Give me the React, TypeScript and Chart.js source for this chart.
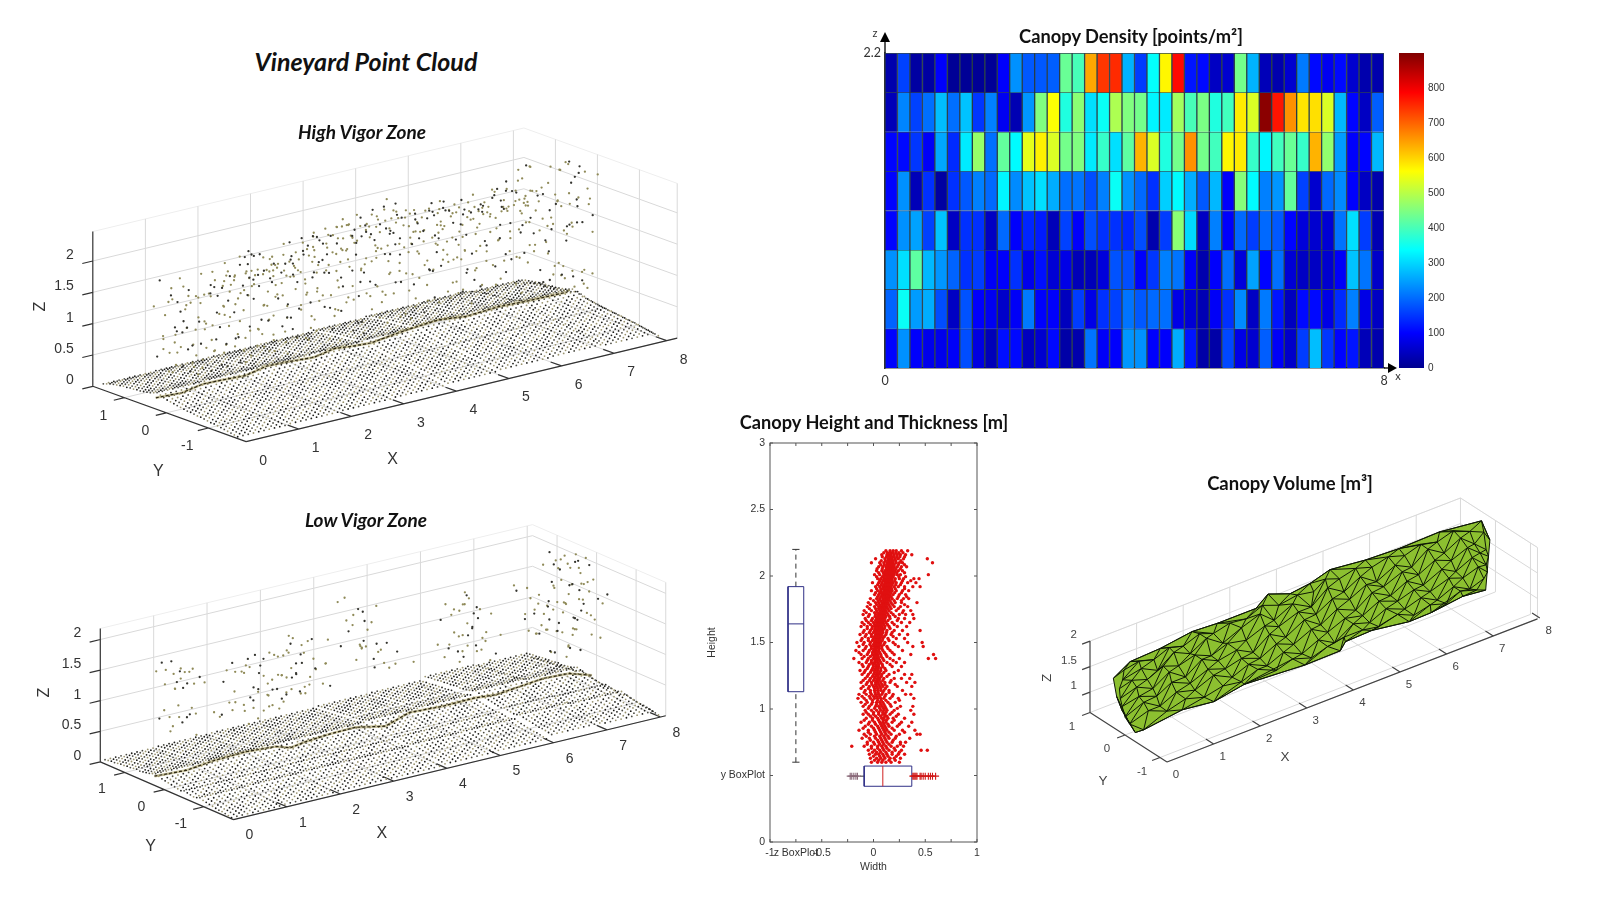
import { useEffect, useRef } from "react";
import { Chart, registerables } from "chart.js";
Chart.register(...registerables);

/* ---------- Canopy density (points/m2), rows top to bottom, 40 columns ---------- */
const density1 = [40,170,30,30,110,20,20,20,20,110,240,190,190,195,430,400,640,740,750,270,165,340,570,780,130,120,60,70,440,270,50,40,70,220,120,100,120,70,40,40];
const density2 = [50,230,170,210,280,210,285,160,225,100,45,245,450,560,365,460,310,345,490,450,440,330,320,480,400,445,365,395,580,530,890,770,660,585,590,530,275,115,60,195];
const density3 = [115,120,160,105,260,150,320,470,210,425,335,540,575,530,440,450,320,385,310,420,630,530,365,440,660,440,395,570,580,385,330,395,430,385,630,465,250,110,115,275];
const density4 = [115,240,50,155,30,155,190,225,205,330,235,285,310,265,210,215,180,225,345,240,205,155,295,335,265,190,275,110,455,335,225,245,425,170,70,205,235,110,60,40];
const density5 = [115,240,255,170,285,60,155,155,60,205,110,145,135,50,170,110,180,155,155,145,180,40,165,460,305,60,225,110,205,165,205,190,115,80,70,75,215,310,165,45];
const density6 = [240,310,420,275,245,200,155,165,105,110,155,95,125,75,90,50,50,80,185,180,110,160,225,215,105,40,110,210,80,255,115,210,75,60,60,70,105,285,215,65];
const density7 = [200,345,250,265,180,60,185,110,100,65,105,220,110,110,55,165,90,155,170,215,190,205,210,90,75,45,105,155,235,60,220,130,55,120,120,90,150,225,90,60];
const density8 = [115,240,110,95,95,105,180,85,50,125,120,55,70,120,35,40,215,105,110,245,240,110,110,265,130,35,35,175,90,70,195,105,65,165,280,160,115,130,50,40];
const densityRows = [density1, density2, density3, density4, density5, density6, density7, density8];
const columnCenters = [0.1,0.3,0.5,0.7,0.9,1.1,1.3,1.5,1.7,1.9,2.1,2.3,2.5,2.7,2.9,3.1,3.3,3.5,3.7,3.9,4.1,4.3,4.5,4.7,4.9,5.1,5.3,5.5,5.7,5.9,6.1,6.3,6.5,6.7,6.9,7.1,7.3,7.5,7.7,7.9];
const rowEdges = [2.2,1.925,1.65,1.375,1.1,0.825,0.55,0.275,0];
const colorbarTicks = [0,100,200,300,400,500,600,700,800];

/* ---------- Canopy height and thickness: width values by height row ---------- */
const thicknessRows: [number, number[]][] = [
[2.19,[.12,.16,.19,.22,.27,.33]],[2.16,[.08,.13,.15,.17,.2,.23,.26,.31,.37]],[2.13,[.02,.11,.14,.16,.18,.21,.24,.29,.52]],
[2.10,[-.02,.06,.1,.13,.15,.17,.19,.22,.25,.28,.57]],[2.07,[.05,.09,.12,.14,.16,.18,.2,.23,.27,.32]],[2.04,[.03,.08,.11,.13,.15,.17,.19,.21,.24,.28]],
[2.01,[.01,.06,.1,.12,.14,.16,.18,.2,.23,.26,.53]],[1.98,[.04,.07,.1,.12,.14,.16,.18,.21,.25,.29,.39,.44]],[1.95,[-.01,.05,.08,.11,.13,.15,.17,.19,.22,.27,.33,.41]],
[1.92,[.02,.06,.09,.11,.13,.15,.17,.2,.24,.3,.38,.45]],[1.89,[-.02,.04,.07,.1,.12,.14,.16,.18,.22,.28,.34]],[1.86,[.01,.05,.08,.1,.12,.14,.16,.19,.25,.31]],
[1.83,[-.03,.03,.06,.09,.11,.13,.15,.18,.23,.29,.34]],[1.80,[-.05,.02,.05,.08,.1,.12,.14,.17,.21,.27,.42]],[1.77,[-.06,.01,.05,.07,.09,.11,.13,.16,.2,.26,.33]],
[1.74,[-.09,-.02,.03,.06,.08,.1,.12,.15,.22,.29,.36]],[1.71,[-.1,-.04,.02,.05,.07,.09,.11,.14,.19,.25,.31,.38]],[1.68,[-.08,-.01,.03,.05,.07,.09,.11,.16,.24,.3,.39]],
[1.65,[-.11,-.05,0,.03,.05,.07,.09,.12,.18,.27,.35]],[1.62,[-.12,-.06,-.01,.02,.04,.06,.08,.11,.15,.23,.32]],[1.59,[-.09,-.03,.01,.03,.05,.07,.09,.13,.2,.28,.45]],
[1.56,[-.13,-.07,-.02,.02,.04,.06,.08,.12,.17,.25,.33]],[1.53,[-.11,-.05,0,.02,.04,.06,.09,.14,.22,.3]],[1.50,[-.16,-.09,-.03,.01,.03,.05,.07,.11,.19,.33,.47]],
[1.47,[-.14,-.07,-.02,.01,.03,.05,.08,.13,.24,.38,.48]],[1.44,[-.17,-.1,-.04,0,.02,.05,.09,.16,.28]],[1.41,[-.12,-.06,-.01,.02,.04,.07,.12,.2,.36,.58]],
[1.38,[-.19,-.11,-.05,0,.03,.05,.09,.16,.25,.53,.6]],[1.35,[-.14,-.07,-.02,.01,.04,.07,.13,.22,.3]],[1.32,[-.1,-.05,0,.03,.05,.09,.18,.27]],
[1.29,[-.13,-.08,-.02,.01,.04,.07,.12,.24]],[1.26,[-.11,-.05,0,.03,.05,.08,.15,.3,.37]],[1.23,[-.08,-.03,.01,.04,.06,.1,.2,.27,.35]],
[1.20,[-.12,-.06,-.02,.02,.04,.07,.11,.16,.32,.4]],[1.17,[-.1,-.04,0,.03,.06,.09,.13,.23,.37]],[1.14,[-.08,-.03,.01,.04,.07,.1,.15,.28]],
[1.11,[-.14,-.07,-.02,.02,.05,.08,.12,.19,.31,.36]],[1.08,[-.15,-.09,-.03,.01,.04,.07,.1,.16,.24,.39]],[1.05,[-.12,-.06,-.01,.03,.06,.09,.14,.21]],
[1.02,[-.1,-.04,.02,.05,.08,.11,.17,.26,.38]],[0.99,[-.08,-.02,.03,.07,.1,.13,.2,.36]],[0.96,[-.1,-.05,0,.05,.09,.11,.16,.24,.39]],
[0.93,[-.07,-.01,.04,.08,.1,.14,.19,.3]],[0.90,[-.12,-.04,.01,.06,.09,.12,.18,.27,.37]],[0.87,[-.08,-.02,.04,.08,.11,.15,.23,.34]],
[0.84,[-.14,-.05,.01,.06,.1,.13,.2,.28,.4]],[0.81,[-.09,-.03,.03,.08,.12,.17,.25,.45,.42]],[0.78,[-.11,-.04,.02,.07,.11,.15,.21,.35]],
[0.75,[-.06,0,.05,.09,.13,.18,.26,.31]],[0.72,[-.21,-.09,-.02,.04,.08,.12,.17,.23,.29]],[0.69,[-.05,.01,.06,.1,.15,.21,.27,.46,.52]],
[0.66,[-.04,.02,.05,.09,.13,.18,.24,.3]],[0.63,[-.03,.03,.07,.11,.16,.2,.26]],[0.60,[-.02,.04,.08,.12,.17,.25]],
];
const thicknessCore: [number, number[]][] = [
[2.175,[.1,.135,.165,.185,.215,.245,.285]],[2.145,[.085,.125,.155,.175,.195,.225,.255,.3]],[2.115,[.075,.115,.145,.165,.19,.215,.265]],[2.085,[.07,.105,.135,.155,.175,.2,.24,.3]],
[2.055,[.035,.085,.125,.145,.165,.19,.215,.26]],[2.025,[.05,.095,.115,.135,.155,.175,.2,.225,.3]],[1.995,[.03,.085,.105,.13,.15,.17,.19,.245,.31]],[1.965,[.06,.09,.115,.135,.155,.175,.205,.28,.36]],
[1.935,[.04,.075,.1,.12,.14,.16,.18,.215,.26]],[1.905,[.03,.07,.095,.115,.135,.155,.175,.21,.3]],[1.875,[.02,.06,.085,.105,.125,.145,.17,.205,.27]],[1.845,[.04,.07,.09,.11,.13,.15,.17,.24,.32]],
[1.815,[0,.045,.07,.095,.115,.135,.16,.2,.27]],[1.785,[-.03,.03,.06,.085,.105,.125,.15,.185,.3]],[1.755,[-.04,.02,.05,.075,.095,.115,.14,.17,.24]],[1.725,[-.07,.01,.04,.065,.085,.105,.13,.17,.28]],
[1.695,[-.05,.015,.04,.06,.08,.1,.12,.155,.21]],[1.665,[-.07,-.02,.02,.045,.065,.085,.105,.14,.23]],[1.635,[-.09,-.03,.01,.035,.055,.075,.1,.135,.2]],[1.605,[-.06,-.015,.015,.04,.06,.08,.105,.16]],
[1.575,[-.1,-.04,0,.025,.045,.065,.09,.125,.18]],[1.545,[-.08,-.02,.01,.03,.05,.075,.105,.19]],[1.515,[-.12,-.05,-.01,.02,.04,.06,.085,.15]],[1.485,[-.1,-.035,0,.02,.04,.065,.1,.21]],
[1.455,[-.08,-.02,.01,.03,.055,.08,.14]],[1.425,[-.14,-.05,-.01,.015,.035,.06,.105,.18]],[1.395,[-.09,-.03,.005,.025,.045,.075,.13]],[1.365,[-.06,-.02,.015,.035,.06,.1,.19]],
[1.335,[-.11,-.04,-.005,.02,.05,.085,.16]],[1.305,[-.06,-.01,.02,.04,.07,.11]],[1.275,[-.09,-.03,.01,.035,.06,.1,.2]],[1.245,[-.06,-.01,.02,.045,.075,.13]],
[1.215,[-.1,-.04,0,.03,.055,.09,.17]],[1.185,[-.07,-.015,.02,.05,.08,.11,.21]],[1.155,[-.12,-.05,.01,.04,.07,.115]],[1.125,[-.09,-.03,.015,.045,.09,.15]],
[1.095,[-.11,-.04,0,.03,.06,.11,.18]],[1.065,[-.07,-.01,.04,.075,.12,.25]],[1.035,[-.08,-.02,.03,.07,.1,.16]],[1.005,[-.05,.01,.06,.095,.12,.23]],
[.975,[-.07,0,.05,.09,.12,.18]],[.945,[-.03,.02,.07,.11,.13,.22]],[.915,[-.09,-.01,.05,.095,.125,.2]],[.885,[-.05,.02,.07,.1,.14,.25]],
[.855,[-.1,0,.05,.09,.12,.18]],[.825,[-.05,.02,.07,.11,.15,.3]],[.795,[-.07,.01,.06,.1,.14,.22]],[.765,[-.03,.04,.08,.12,.19]],
[.735,[-.06,.01,.06,.1,.15,.26]],[.705,[-.02,.04,.09,.13,.2]],[.675,[-.01,.03,.07,.12,.18,.25]],[.645,[0,.06,.1,.14,.22]],[.615,[.01,.05,.09,.15,.21]],
];
const verticalBox = [0.6, 1.13, 1.64, 1.92, 2.2];
const horizontalBox = [-0.13, -0.09, 0.09, 0.37, 0.37];
const widthOutliers = [-0.225,-0.21,-0.19,-0.17,-0.155,0.38,0.39,0.4,0.41,0.42,0.45,0.46,0.48,0.5,0.53,0.55,0.57,0.6];
const widthTicks: Record<string, string> = { "-1": "-1", "-0.75": "z BoxPlot", "-0.5": "-0.5", "0": "0", "0.5": "0.5", "1": "1" };
const heightTicks: Record<string, string> = { "0": "0", "0.5": "y BoxPlot", "1": "1", "1.5": "1.5", "2": "2", "2.5": "2.5", "3": "3" };

/* ---------- Point clouds: ground sampling, heights and canopy (x -> heights) ---------- */
const groundX = [0,.1,.2,.3,.4,.5,.6,.7,.8,.9,1,1.1,1.2,1.3,1.4,1.5,1.6,1.7,1.8,1.9,2,2.1,2.2,2.3,2.4,2.5,2.6,2.7,2.8,2.9,3,3.1,3.2,3.3,3.4,3.5,3.6,3.7,3.8,3.9,4,4.1,4.2,4.3,4.4,4.5,4.6,4.7,4.8,4.9,5,5.1,5.2,5.3,5.4,5.5,5.6,5.7,5.8,5.9,6,6.1,6.2,6.3,6.4,6.5,6.6,6.7,6.8,6.9,7,7.1,7.2,7.3,7.4,7.5,7.6,7.7,7.8,7.9,8];
const groundY = [-1.7,-1.62,-1.54,-1.46,-1.38,-1.3,-1.22,-1.14,-1.06,-.98,-.9,-.82,-.74,-.66,-.58,-.5,-.42,-.34,-.26,-.18,-.1,-.02,.06,.14,.22,.3,.38,.46,.54,.62,.7,.78,.86,.94,1.02,1.1,1.18,1.26,1.34,1.42,1.5];
const highAcrossRow = [.03,.04,.05,.06,.07,.08,.09,.1,.1,.11,.12,.13,.13,.14,.15,.15,.16,.17,.18,.19,.2,.21,.23,.25,.27,.25,.23,.22,.21,.2,.2,.19,.19,.18,.18,.17,.16,.15,.14,.12,.1];
const lowAcrossRow = [.02,.03,.04,.05,.05,.06,.07,.08,.09,.1,.12,.1,.09,.1,.11,.12,.1,.11,.12,.13,.14,.15,.16,.18,.2,.18,.16,.15,.14,.13,.14,.13,.12,.12,.11,.11,.1,.09,.09,.08,.07];
const highAlongRow = [0,.01,.02,.03,.05,.07,.08,.06,0];
const lowAlongRow = [0,.01,.02,.02,.04,.05,.1,.08,0];
const highRidgeX = [0,.5,.9,1.25,1.7,2.1,2.5,3,3.4,3.75,4.1,4.45,4.9,5.38,5.9,6.5,7.1,7.83];
const highRidgeZ = [.18,.16,.22,.21,.19,.26,.25,.22,.28,.25,.23,.27,.31,.34,.29,.32,.3,.29];
const lowRidgeX = [0,.6,1.1,1.7,2.27,2.55,2.83,3.3,3.76,4.33,4.78,5.4,6.01,6.4,6.84,7.3,7.77,8.2];
const lowRidgeZ = [.15,.12,.17,.19,.16,.08,.12,.15,.16,.06,.19,.16,.17,.14,.18,.22,.2,.08];
const canopyDepths = [0,.28,-.2,.14,-.32,.36,-.08,.22,-.26,.1,-.14,.32,.05];

const highCanopy: [number, number[]][] = [
[.25,[.55,.72,.9,1.08,1.25,1.5,1.72,1.95,2.1]],[.4,[.48,.63,.8,.97,1.16,1.35,1.56,1.7]],[.55,[.52,.7,.86,1.02,1.22,1.42,1.62,1.74]],
[.7,[.45,.6,.78,.95,1.12,1.3,1.48,1.68,1.76]],[.85,[.5,.66,.84,1.05,1.28,1.52,1.66,1.72]],[1,[.42,.58,.74,.92,1.14,1.38,1.6,1.78]],
[1.15,[.48,.68,.88,1.1,1.32,1.58,1.72,1.84]],[1.3,[.44,.62,.8,1.02,1.24,1.46,1.66,1.78,1.86]],[1.45,[.5,.7,.92,1.16,1.4,1.62,1.74,1.88]],
[1.6,[.46,.64,.86,1.08,1.34,1.54,1.7,1.82,1.92]],[1.75,[.52,.74,.98,1.2,1.44,1.68,1.8,1.96]],[1.9,[.48,.66,.9,1.12,1.38,1.6,1.76,1.9,2.06]],
[2.05,[.55,.76,1,1.24,1.48,1.66,1.78,1.92,2.02]],[2.2,[.5,.7,.94,1.18,1.42,1.62,1.74,1.86,1.96]],[2.35,[.46,.68,.88,1.1,1.36,1.56,1.7,1.8,1.88]],
[2.5,[.52,.72,.96,1.22,1.46,1.64,1.76,1.84,1.9]],[2.65,[.48,.66,.9,1.16,1.4,1.6,1.72,1.86,1.98]],[2.8,[.54,.76,1.02,1.28,1.5,1.68,1.8,1.92,2.02]],
[2.95,[.5,.7,.94,1.18,1.44,1.66,1.82,1.96,2.08]],[3.1,[.56,.78,1.04,1.3,1.54,1.72,1.86,2,2.1]],[3.25,[.52,.74,.98,1.22,1.46,1.7,1.88,2.02]],
[3.4,[.58,.8,1.06,1.32,1.58,1.78,1.92,2.06,2.14]],[3.55,[.6,.84,1.1,1.38,1.62,1.82,1.98,2.1,2.16]],[3.7,[.54,.76,1.02,1.3,1.56,1.76,1.94,2.08,2.18]],
[3.85,[.6,.86,1.12,1.4,1.66,1.86,2,2.12,2.2]],[4,[.56,.82,1.08,1.36,1.6,1.78,1.94,2.08]],[4.15,[.62,.88,1.14,1.42,1.7,1.88,2.02,2.14]],
[4.3,[.58,.84,1.1,1.36,1.62,1.84,2,2.16,2.26]],[4.45,[.64,.9,1.16,1.44,1.7,1.9,2.06,2.2,2.3]],[4.6,[.6,.86,1.12,1.38,1.64,1.86,2.04,2.18,2.34]],
[4.75,[.56,.82,1.08,1.34,1.6,1.8,1.98,2.14]],[4.9,[.62,.88,1.14,1.4,1.64,1.84,2,2.12]],[5.05,[.58,.84,1.06,1.3,1.56,1.78,1.94,2.06]],
[5.2,[.64,.92,1.18,1.4,1.62,1.76,1.9,2.04,2.12]],[5.35,[.6,.86,1.1,1.34,1.52,1.68,1.86,2.02,2.14]],[5.5,[.56,.82,1.02,1.26,1.48,1.66,1.86,2,2.1]],
[5.65,[.62,.88,1.08,1.3,1.5,1.72,1.9,2.02,2.12]],[5.8,[.58,.84,1.04,1.22,1.44,1.78,1.94,2.04]],[5.95,[.64,.86,1.1,1.3,1.58,1.82,1.96,2.06]],
[6.1,[.6,.82,1.02,1.24,1.5,1.76,1.92,2.02]],[6.25,[.66,.9,1.08,1.32,1.6,1.8,1.94,2.04]],[6.4,[.6,.84,1.04,1.26,1.52,1.78,1.9,2]],
[6.55,[.64,.9,1.12,1.36,1.62,1.84,1.96,2.06]],[6.7,[.58,.86,1.06,1.3,1.58,1.82,1.94,2.04,2.12]],[6.85,[.62,.92,1.16,1.42,1.68,1.86,1.98,2.08]],
[7,[.66,.98,1.24,1.48,1.7,1.88,2,2.12,2.2]],[7.15,[.6,.9,1.2,1.44,1.66,1.84,2,2.3,2.42]],[7.3,[.54,.8,1.06,1.3,1.56,1.8,1.98,2.34,2.46]],
[7.45,[.5,.68,.94,1.18,1.42,1.6,1.82,2]],[7.6,[.44,.6,.82,1.08,1.22,1.5,1.74]],[7.75,[.42,.56,.72,1.24,1.46,1.72,1.86,1.96]],
[7.9,[.38,.5,.66,1.18,1.42,1.66,1.84,2.02,2.16]],[8.05,[.36,.46,.62,1.14,1.38,1.6,1.8,2.06,2.2,2.24]],[8.15,[.4,.58,1.2,1.5,1.7,2.18,2.22]],
];
const highCanopyTop: [number, number[]][] = [
[.32,[.66,1,1.4,1.62]],[.62,[.58,1.1,1.52,1.68]],[.92,[.76,1.2,1.56,1.7]],[1.22,[.94,1.42,1.68,1.8]],[1.38,[.6,1.3,1.7,1.84]],[1.52,[.82,1.26,1.64,1.78,1.86]],[1.68,[.9,1.5,1.74,1.86,1.94]],[1.82,[.68,1.32,1.72,1.84,2]],
[1.98,[1.06,1.56,1.8,1.94,2.04]],[2.12,[.8,1.4,1.7,1.82,1.94]],[2.28,[1.02,1.52,1.68,1.8,1.9]],[2.42,[.74,1.3,1.66,1.78,1.86]],[2.58,[1.1,1.54,1.72,1.82,1.92]],[2.72,[.84,1.36,1.74,1.88,2]],[2.88,[1.14,1.58,1.78,1.92,2.04]],[3.02,[.9,1.48,1.82,1.98,2.08]],
[3.18,[1.2,1.64,1.88,2.02,2.12]],[3.32,[.96,1.52,1.84,2,2.1]],[3.48,[1.24,1.7,1.9,2.04,2.14]],[3.62,[1,1.56,1.86,2.02,2.16]],[3.78,[1.3,1.72,1.96,2.1,2.2]],[3.92,[1.06,1.64,1.9,2.06,2.16]],[4.08,[1.34,1.8,1.98,2.12,2.2]],[4.22,[1.12,1.72,1.94,2.08,2.22]],
[4.38,[1.4,1.82,2.02,2.14,2.28]],[4.52,[1.22,1.76,1.96,2.12,2.26]],[4.68,[1.46,1.84,2,2.16,2.32]],[4.82,[1.2,1.7,1.92,2.06,2.18]],[4.98,[1.5,1.82,1.96,2.1]],[5.12,[1.24,1.66,1.86,2]],[5.28,[1.46,1.74,1.92,2.08,2.16]],[5.42,[1.2,1.62,1.84,2.04,2.12]],
[5.58,[1.38,1.7,1.88,2.02,2.14]],[5.72,[1.14,1.56,1.82,1.98,2.1]],[5.88,[1.34,1.72,1.9,2,2.08]],[6.02,[1.12,1.6,1.84,1.96,2.06]],[6.18,[1.4,1.74,1.9,2.02]],[6.32,[1.18,1.66,1.84,1.96,2.06]],[6.48,[1.44,1.78,1.92,2.04]],[6.62,[1.22,1.7,1.88,2,2.1]],
[6.78,[1.5,1.8,1.96,2.06,2.14]],[6.92,[1.28,1.72,1.9,2.04,2.16]],[7.08,[1.54,1.82,1.96,2.1,2.22]],[7.22,[1.14,1.62,1.88,2.38]],[7.38,[.86,1.34,1.72,1.92]],[7.82,[.5,1.34,1.78]],[7.98,[.44,1.3,1.74,2.12,2.18]],[8.1,[.52,1.26,1.58,1.92,2.2,2.23]],
];
const lowCanopy: [number, number[]][] = [
[.3,[.82,.95,1.3,1.55,1.62,1.7,1.78,1.88,1.92]],[.42,[.85,.98,1.05,1.48,1.6,1.72,1.82,1.9]],[.55,[.8,.9,1.02,1.4,1.62,1.72,1.78]],[.7,[.88,1,1.12,1.52,1.68]],[.88,[.95,1.1,1.38,1.52,1.66]],
[1.3,[.7,.82,1.12]],[1.5,[.75,.9,1.22,1.3]],[1.62,[.72,.98,1.35,1.44,1.52,1.6]],[1.75,[.8,.92,1.06,1.4,1.58,1.7]],[1.9,[.74,.88,1,1.16,1.36,1.46]],
[2.02,[.78,.96,1.12,1.28,1.42,1.52]],[2.15,[.84,1,1.18,1.3,1.44,1.58]],[2.28,[.8,.94,1.08,1.22,1.36,1.5,1.64]],[2.42,[.86,.98,1.12,1.26,1.4,1.56,1.72]],[2.55,[.82,1.04,1.2,1.34,1.48,1.62,1.78]],
[2.68,[.88,1,1.16,1.3,1.46,1.6,1.82,1.87]],[2.8,[.92,1.1,1.24,1.4,1.58,1.74,1.86]],[2.92,[.96,1.14,1.28,1.48,1.62]],[3.1,[1.05,1.22,1.38]],[3.25,[1.14,1.3,1.7]],
[3.7,[1.42,1.58,1.88,2.0,2.12]],[3.8,[1.5,1.66,1.82,1.96,2.08,2.18]],[3.92,[1.4,1.54,1.72,1.9,2.02,2.2]],[4.05,[1.1,1.24,1.34,1.44]],[4.2,[1.02,1.16,1.3,1.42]],[4.4,[1.0,1.18,1.32]],[4.62,[.98,1.14,1.26]],
[5.25,[1.22]],[5.6,[.86,1,1.1,1.3,1.44,1.6]],[5.72,[.82,.96,1.14,1.26,1.48,1.66,1.78]],[5.85,[.9,1.04,1.2,1.38,1.56,1.72,1.88]],[5.98,[.86,1.02,1.16,1.34,1.5,1.68,1.84]],[6.1,[.84,.98,1.12,1.28,1.44,1.6,1.7]],[6.25,[.9,1.06,1.24,1.4,1.52]],
[6.9,[1.76]],[7.02,[1.08,1.3,1.44,1.62,1.74]],[7.15,[.98,1.14,1.36,1.52,1.6]],[7.28,[.9,1.04,1.22,1.42,1.56]],[7.4,[.66,.84,.98,1.16,1.34,1.5]],[7.52,[.58,.78,.94,1.1,1.3,1.46,1.72,1.82,1.94,2.02,2.1]],
[7.64,[.5,.7,.88,1.04,1.22,1.4,1.6,1.76,1.92,2.06,2.12]],[7.76,[.46,.66,.82,.98,1.16,1.32,1.5,1.68,1.84,2,2.1]],[7.88,[.6,.76,.9,1.08,1.26,1.44,1.58,1.76,1.94,2.04]],[8,[.72,.86,1,1.18,1.36,1.5,1.62,1.8,1.98,2.06]],[8.12,[.8,.94,1.1,1.28,1.42,1.56,1.7,1.86,2]],[8.25,[.98,1.16,1.3,1.4,1.48,1.64]],
];

/* ---------- Canopy volume: hull outline and interior mesh layers (x, z) ---------- */
const hullTop = [[-.25,1.8],[.11,2],[.76,2.03],[1.44,2.12],[1.98,2.09],[2.81,2.09],[3.07,2.28],[3.54,2.12],[3.97,2.17],[4.4,2.29],[5.16,2.21],[5.88,2.18],[6.75,2.2],[7.65,2.1],[7.83,1.66]];
const hullBottom = [[7.74,.71],[7.25,.76],[6.57,.68],[6.1,.67],[5.3,.78],[4.73,.76],[4.62,.62],[3.86,.61],[2.56,.69],[1.91,.58],[1.23,.66],[.4,.56],[.22,.57],[-.07,1.12],[-.18,1.42]];
const meshLayer0 = [[-.02,1.88],[.3,1.94],[.62,1.86],[.95,1.98],[1.25,1.9],[1.6,2.02],[1.9,1.92],[2.25,2],[2.6,1.96],[2.95,2.1],[3.3,1.98],[3.7,2.04],[4.05,1.98],[4.3,2.14],[4.6,2.04],[4.95,2.12],[5.3,2.02],[5.65,2.1],[6,2],[6.35,2.1],[6.7,2.02],[7.05,2.12],[7.4,1.98],[7.7,1.86]];
const meshLayer1 = [[-.05,1.7],[.35,1.78],[.7,1.62],[1.05,1.85],[1.4,1.7],[1.75,1.88],[2.1,1.66],[2.5,1.82],[2.9,1.95],[3.2,1.72],[3.6,1.9],[4,1.7],[4.35,1.95],[4.7,1.75],[5.05,1.92],[5.4,1.7],[5.8,1.88],[6.15,1.72],[6.5,1.95],[6.85,1.75],[7.2,1.92],[7.5,1.7],[7.75,1.5]];
const meshLayer15 = [[-.12,1.55],[.15,1.62],[.48,1.52],[.82,1.66],[1.15,1.55],[1.5,1.64],[1.85,1.5],[2.2,1.62],[2.6,1.54],[3,1.68],[3.3,1.56],[3.72,1.7],[4.1,1.52],[4.45,1.7],[4.82,1.56],[5.18,1.72],[5.55,1.55],[5.95,1.7],[6.3,1.52],[6.65,1.68],[7,1.55],[7.35,1.68],[7.62,1.48],[7.8,1.35]];
const meshLayer2 = [[-.1,1.35],[.25,1.45],[.6,1.3],[.95,1.5],[1.3,1.28],[1.65,1.5],[2,1.35],[2.4,1.42],[2.75,1.25],[3.1,1.48],[3.45,1.3],[3.85,1.5],[4.2,1.28],[4.55,1.46],[4.95,1.3],[5.3,1.52],[5.7,1.32],[6.05,1.48],[6.4,1.28],[6.8,1.45],[7.1,1.3],[7.45,1.45],[7.75,1.2]];
const meshLayer25 = [[-.06,1.18],[.3,1.25],[.68,1.12],[1,1.28],[1.4,1.12],[1.78,1.26],[2.15,1.14],[2.5,1.22],[2.9,1.08],[3.25,1.24],[3.62,1.1],[4,1.26],[4.35,1.08],[4.72,1.22],[5.1,1.14],[5.45,1.3],[5.85,1.16],[6.2,1.26],[6.55,1.1],[6.95,1.22],[7.25,1.12],[7.58,1.22],[7.78,1.05]];
const meshLayer3 = [[0,.95],[.4,1.1],[.75,.9],[1.1,1.05],[1.5,.95],[1.9,1.1],[2.3,.92],[2.65,1.05],[3.05,.88],[3.4,1.02],[3.8,.85],[4.15,1],[4.5,.82],[4.9,1.05],[5.25,.95],[5.6,1.1],[6,.95],[6.35,1.05],[6.7,.88],[7.05,1.02],[7.4,.85],[7.7,.95]];
const meshLayer35 = [[.1,.78],[.5,.9],[.9,.75],[1.3,.85],[1.7,.74],[2.1,.82],[2.5,.76],[2.85,.88],[3.25,.72],[3.6,.82],[4,.7],[4.35,.8],[4.7,.86],[5.1,.86],[5.45,.8],[5.85,.9],[6.2,.76],[6.55,.84],[6.9,.74],[7.2,.88],[7.55,.78]];

const xTicks3d = [0,1,2,3,4,5,6,7,8];
const yTicks3d = [-1,0,1];
const zTicksCloud = [0,0.5,1,1.5,2];
const zTicksVolume = [1,1.5,2];

/* ---------- helpers ---------- */
const SANS = "'Liberation Sans', Arial, sans-serif";
const CAL = "Lato, sans-serif";
type V = { box:number[]; o:number[]; ex:number[]; ey:number[]; ez:number; z0:number; xMax:number; yMin:number; yMax:number; zTop:number; zTicks:number[]; font:number; color:string;
  xOff:number[]; yOff:number[]; zRight:number; zDy:number; xT:number[]; yT:number[]; zT:number[]; tick:number };
const P = (v:V,x:number,y:number,z:number)=>({ x:v.o[0]+x*v.ex[0]+y*v.ey[0], y:v.o[1]+x*v.ex[1]+y*v.ey[1]-(z-v.z0)*v.ez });
const GAP = { x:NaN, y:NaN };

function jet(value:number){
  const t=Math.max(0,Math.min(1,value/900));
  const c=(d:number)=>Math.round(255*Math.max(0,Math.min(1,1.5-Math.abs(4*t-d))));
  return `rgb(${c(3)},${c(2)},${c(1)})`;
}
const lineSet=(data:any[],color:string,width:number,extra:any={})=>({ type:"scatter", data, showLine:true, borderColor:color, borderWidth:width, pointRadius:0, spanGaps:false, ...extra });

function frame(v:V){
  const grid:any[]=[],top:any[]=[],axes:any[]=[];
  const s=(list:any[],a:any,b:any)=>list.push(a,b,GAP);
  for(const x of xTicks3d) if(x>0&&x<=v.xMax){ s(grid,P(v,x,v.yMax,v.z0),P(v,x,v.yMax,v.zTop)); s(grid,P(v,x,v.yMin,v.z0),P(v,x,v.yMax,v.z0)); }
  for(const y of [...yTicks3d,v.yMin]){ s(grid,P(v,v.xMax,y,v.z0),P(v,v.xMax,y,v.zTop)); s(grid,P(v,0,y,v.z0),P(v,v.xMax,y,v.z0)); }
  for(const z of v.zTicks) if(z>v.z0){ s(grid,P(v,0,v.yMax,z),P(v,v.xMax,v.yMax,z)); s(grid,P(v,v.xMax,v.yMax,z),P(v,v.xMax,v.yMin,z)); }
  s(top,P(v,0,v.yMax,v.zTop),P(v,v.xMax,v.yMax,v.zTop)); s(top,P(v,v.xMax,v.yMax,v.zTop),P(v,v.xMax,v.yMin,v.zTop));
  s(axes,P(v,0,v.yMin,v.z0),P(v,v.xMax,v.yMin,v.z0)); s(axes,P(v,0,v.yMin,v.z0),P(v,0,v.yMax,v.z0)); s(axes,P(v,0,v.yMax,v.z0),P(v,0,v.yMax,v.zTop));
  for(const x of xTicks3d) s(axes,P(v,x,v.yMin,v.z0),P(v,x,v.yMin+v.tick*1.3,v.z0));
  for(const y of yTicks3d) s(axes,P(v,0,y,v.z0),P(v,-v.tick,y,v.z0));
  for(const z of v.zTicks) s(axes,P(v,0,v.yMax,z),P(v,-v.tick,v.yMax,z));
  return [lineSet(axes,v.color,1.2),lineSet(grid,"#d9d9d9",1),lineSet(top,"#eeeeee",1)];
}
const labels3d={ id:"labels3d", afterDraw(chart:any,_a:any,o:any){
  const v:V=o.view; if(!v) return;
  const {ctx,scales}=chart; const tx=(p:any)=>[scales.x.getPixelForValue(p.x),scales.y.getPixelForValue(p.y)];
  ctx.save(); ctx.fillStyle=v.color; ctx.textAlign="center"; ctx.textBaseline="middle"; ctx.font=`${v.font}px ${SANS}`;
  for(const x of xTicks3d){ const [a,b]=tx(P(v,x,v.yMin,v.z0)); ctx.fillText(String(x),a+v.xOff[0],b+v.xOff[1]); }
  for(const y of yTicks3d){ const [a,b]=tx(P(v,0,y,v.z0)); ctx.fillText(String(y),a+v.yOff[0],b+v.yOff[1]); }
  ctx.textAlign="right";
  for(const z of v.zTicks){ const [a,b]=tx(P(v,0,v.yMax,z)); ctx.fillText(String(z),a+v.zRight,b+v.zDy); }
  ctx.textAlign="center"; ctx.font=`${v.font+2}px ${SANS}`;
  const f=(p:number[],s:string,r=false)=>{ const a=scales.x.getPixelForValue(p[0]),b=scales.y.getPixelForValue(p[1]); ctx.save(); ctx.translate(a,b); if(r) ctx.rotate(-Math.PI/2); ctx.fillText(s,0,0); ctx.restore(); };
  f(v.xT,"X"); f(v.yT,"Y"); f(v.zT,"Z",true);
  ctx.restore();
}};
const hullFill={ id:"hullFill", beforeDatasetDraw(chart:any,args:any,o:any){
  if(!o.view||args.index!==0) return;
  const v:V=o.view; const {ctx,scales}=chart; ctx.save(); ctx.beginPath();
  [...hullTop,...hullBottom].forEach(([x,z],i)=>{ const p=P(v,x,0,z); const a=scales.x.getPixelForValue(p.x),b=scales.y.getPixelForValue(p.y); i?ctx.lineTo(a,b):ctx.moveTo(a,b); });
  ctx.closePath(); ctx.fillStyle="#8cc030"; ctx.fill(); ctx.restore();
}};
const base3d=(v:V,datasets:any[],fill=false)=>({ type:"scatter", data:{datasets}, plugins:[labels3d,hullFill], options:{ animation:false, responsive:false, layout:{padding:0},
  scales:{ x:{type:"linear",display:false,min:v.box[0],max:v.box[0]+v.box[2]}, y:{type:"linear",display:false,reverse:true,min:v.box[1],max:v.box[1]+v.box[3]} },
  plugins:{ legend:{display:false}, tooltip:{enabled:false}, labels3d:{view:v}, hullFill:{view:fill?v:null} } } });

function cloudConfig(v:V,across:number[],along:number[],canopies:[number,number[]][][],ridgeX:number[],ridgeZ:number[],rowY:number){
  const gp:any[]=[],gc:string[]=[];
  groundX.forEach((x,i)=>groundY.forEach((y,j)=>{
    gp.push(P(v,x,y,across[j]+along[Math.floor(x)]));
    const m=(i*3+j*7)%11, n=(i*2+j*5)%7; gc.push(m<3||n===0?"#1d1d19":m<7?"#4c4c44":"#9a9470");
  }));
  const dark:any[]=[],olive:any[]=[]; let k=0;
  canopies.forEach(list=>list.forEach(([x,zs])=>zs.forEach(z=>{ ((k%3===1)?dark:olive).push(P(v,x,rowY+canopyDepths[k%canopyDepths.length],z)); k++; })));
  const ridge=ridgeX.map((x,i)=>P(v,x,rowY,ridgeZ[i]));
  return base3d(v,[
    { type:"scatter", data:ridge, showLine:true, borderColor:"#2a2412", borderWidth:1.2, borderDash:[3,2], pointRadius:0 },
    { type:"scatter", data:ridge, showLine:true, borderColor:"rgba(170,160,100,.6)", borderWidth:2.6, pointRadius:0 },
    { type:"scatter", data:dark, pointRadius:1.15, pointBackgroundColor:"#34342e", pointBorderWidth:0 },
    { type:"scatter", data:olive, pointRadius:1.15, pointBackgroundColor:"#8f8a58", pointBorderWidth:0 },
    { type:"scatter", data:gp, pointRadius:.9, pointBackgroundColor:gc, pointBorderWidth:0 },
    ...frame(v),
  ]);
}
function volumeConfig(v:V){
  const layers=[hullTop,meshLayer0,meshLayer1,meshLayer15,meshLayer2,meshLayer25,meshLayer3,meshLayer35,[...hullBottom].reverse()];
  const mesh:any[]=[]; const pt=(q:number[])=>P(v,q[0],0,q[1]);
  layers.forEach((L)=>{ L.forEach(q=>mesh.push(pt(q))); mesh.push(GAP); });
  for(let k=0;k<layers.length-1;k++){ const A=layers[k],B=layers[k+1]; let i=0,j=0;
    while(i<A.length&&j<B.length){ mesh.push(pt(A[i]),pt(B[j]),GAP);
      const na=i+1<A.length?A[i+1][0]:Infinity, nb=j+1<B.length?B[j+1][0]:Infinity;
      if(na===Infinity&&nb===Infinity) break; if(na<=nb) i++; else j++; } }
  const outline=[...hullTop,...hullBottom,hullTop[0]].map(pt);
  return base3d(v,[lineSet([...mesh,GAP,...outline],"#0e1806",1),...frame(v)],true);
}
const heatConfig=()=>{ const arrows={ id:"arrows", afterDraw(c:any){ const {ctx,chartArea:a}=c; ctx.save(); ctx.fillStyle="#000"; ctx.strokeStyle="#222"; ctx.lineWidth=1.5;
    ctx.beginPath(); ctx.moveTo(a.left,a.top); ctx.lineTo(a.left,a.top-12); ctx.moveTo(a.right,a.bottom); ctx.lineTo(a.right+5,a.bottom); ctx.stroke();
    ctx.beginPath(); ctx.moveTo(a.left-5,a.top-11); ctx.lineTo(a.left+5,a.top-11); ctx.lineTo(a.left,a.top-21); ctx.fill();
    ctx.beginPath(); ctx.moveTo(a.right+4,a.bottom-5); ctx.lineTo(a.right+4,a.bottom+5); ctx.lineTo(a.right+13,a.bottom); ctx.fill();
    ctx.fillStyle="#333"; ctx.font=`11px ${CAL}`; ctx.textAlign="center"; ctx.textBaseline="middle"; ctx.fillText("z",a.left-10,a.top-20); ctx.fillText("x",a.right+14,a.bottom+8); ctx.restore(); }};
  return { type:"bar", data:{ datasets:densityRows.map((row,r)=>({ data:row.map((_,i)=>({x:columnCenters[i],y:[rowEdges[r+1],rowEdges[r]]})), backgroundColor:row.map(jet), borderColor:"rgba(15,40,50,.85)", borderWidth:1, grouped:false, barPercentage:1, categoryPercentage:1 })) },
    plugins:[arrows], options:{ animation:false, responsive:false, layout:{padding:{right:86,top:33}},
    scales:{ x:{type:"linear",min:0,max:8,offset:false,grid:{display:false,drawTicks:false},border:{color:"#333",width:1.5},afterFit:(s:any)=>{s.height=32},ticks:{stepSize:8,padding:5,maxRotation:0,font:{family:CAL,size:12.5},color:"#333",callback:(t:any)=>String(t)}},
      y:{type:"linear",min:0,max:2.2,grid:{display:false,drawTicks:false},border:{color:"#333",width:1.5},afterFit:(s:any)=>{s.width=45},ticks:{stepSize:2.2,padding:4,font:{family:CAL,size:12.5},color:"#333",callback:(t:any)=>t>2?"2.2":""}} },
    plugins:{legend:{display:false},tooltip:{enabled:false}} } }; };
const colorbarConfig=()=>{ const grad={ id:"grad", beforeDatasetsDraw(c:any){ const {ctx,chartArea:a}=c; const g=ctx.createLinearGradient(0,a.bottom,0,a.top);
    [[0,"#00008f"],[.111,"#0000ff"],[.375,"#00ffff"],[.5,"#80ff80"],[.625,"#ffff00"],[.875,"#ff0000"],[1,"#800000"]].forEach(([p,col]:any)=>g.addColorStop(p,col));
    ctx.fillStyle=g; ctx.fillRect(a.left,a.top,a.right-a.left,a.bottom-a.top); }};
  return { type:"scatter", data:{datasets:[{data:[]}]}, plugins:[grad], options:{ animation:false, responsive:false, layout:{padding:{top:20,bottom:15}},
    scales:{ x:{display:false,min:0,max:1}, y:{position:"right",min:0,max:900,grid:{display:false,drawTicks:false},border:{display:false},afterFit:(s:any)=>{s.width=35},afterBuildTicks:(s:any)=>{s.ticks=colorbarTicks.map(value=>({value}))},ticks:{padding:4,font:{family:SANS,size:10},color:"#333"}} },
    plugins:{legend:{display:false},tooltip:{enabled:false}} } }; };
const heightConfig=()=>{ const ink="#2f2f86";
  const frameTicks={ id:"frameTicks", afterDraw(c:any){ const {ctx,chartArea:a,scales}=c; ctx.save(); ctx.strokeStyle="#555"; ctx.lineWidth=1; ctx.strokeRect(a.left,a.top,a.right-a.left,a.bottom-a.top); ctx.beginPath();
    scales.x.ticks.forEach((t:any)=>{ const p=scales.x.getPixelForValue(t.value); ctx.moveTo(p,a.bottom); ctx.lineTo(p,a.bottom-3); ctx.moveTo(p,a.top); ctx.lineTo(p,a.top+3); });
    scales.y.ticks.forEach((t:any)=>{ const p=scales.y.getPixelForValue(t.value); ctx.moveTo(a.left,p); ctx.lineTo(a.left+3,p); ctx.moveTo(a.right,p); ctx.lineTo(a.right-3,p); }); ctx.stroke(); ctx.restore(); }};
  const red:any[]=[]; [...thicknessRows,...thicknessCore].forEach(([y,xs])=>xs.forEach(x=>red.push({x,y})));
  const [vMin,vQ1,vMed,vQ3,vMax]=verticalBox, [hMin,hQ1,hMed,hQ3]=horizontalBox;
  const vx=-0.75,vw=0.076,hy=0.495,hh=0.076;
  const rect=(a:number,b:number,c:number,d:number)=>[{x:a,y:c},{x:b,y:c},{x:b,y:d},{x:a,y:d},{x:a,y:c}];
  return { type:"scatter", data:{ datasets:[
    { data:red, pointRadius:1.7, pointBackgroundColor:"#e01010", pointBorderWidth:0 },
    { data:widthOutliers.map(x=>({x,y:hy})), pointStyle:"cross", pointRadius:3.5, pointBorderColor:widthOutliers.map(x=>x<0?"#8a6a7a":"#d01818"), pointBorderWidth:1.1 },
    lineSet([{x:hMed,y:hy-hh},{x:hMed,y:hy+hh}],"#d02020",1),
    lineSet(rect(hQ1,hQ3,hy-hh,hy+hh),ink,1),
    lineSet([{x:hMin,y:hy},{x:hQ1,y:hy}],"#333",1),
    lineSet([{x:vx-vw,y:vMed},{x:vx+vw,y:vMed}],ink,1),
    lineSet(rect(vx-vw,vx+vw,vQ1,vQ3),ink,1),
    lineSet([{x:vx,y:vMin},{x:vx,y:vQ1}],"#333",1,{borderDash:[5,4]}),
    lineSet([{x:vx,y:vQ3},{x:vx,y:vMax}],"#333",1,{borderDash:[5,4]}),
    lineSet([{x:vx-.035,y:vMin},{x:vx+.035,y:vMin}],"#333",1),
    lineSet([{x:vx-.035,y:vMax},{x:vx+.035,y:vMax}],"#333",1),
  ]}, plugins:[frameTicks], options:{ animation:false, responsive:false, layout:{padding:{top:13,right:23}},
    scales:{ x:{type:"linear",min:-1,max:1,grid:{display:false,drawTicks:false},border:{display:false},afterFit:(s:any)=>{s.height=38},
        ticks:{stepSize:.25,padding:5,autoSkip:false,maxRotation:0,font:{family:SANS,size:10.5},color:"#333",callback:(t:any)=>widthTicks[String(t)]??""},
        title:{display:true,text:"Width",font:{family:SANS,size:10.5},color:"#333",padding:{top:0,bottom:7}}},
      y:{type:"linear",min:0,max:3,grid:{display:false,drawTicks:false},border:{display:false},afterFit:(s:any)=>{s.width=80},
        ticks:{stepSize:.5,padding:5,font:{family:SANS,size:10.5},color:"#333",callback:(t:any)=>heightTicks[String(t)]??""},
        title:{display:true,text:"Height",font:{family:SANS,size:10.5},color:"#333",padding:{top:16,bottom:0}}} },
    plugins:{legend:{display:false},tooltip:{enabled:false}} } }; };

const viewHigh:V={ box:[20,100,680,380], o:[164,415.5], ex:[53.2,-12.9], ey:[-42.5,-15.5], ez:64, z0:0, xMax:8.2, yMin:-1.9, yMax:1.75, zTop:2.47, zTicks:zTicksCloud, font:14, color:"#333", xOff:[17,19], yOff:[-21,18], zRight:-19, zDy:-6, xT:[393,463], yT:[156,475], zT:[37,307], tick:.2 };
const viewLow:V={ box:[20,490,680,380], o:[162,792], ex:[54,-13.1], ey:[-40,-17.5], ez:62.5, z0:0, xMax:8.1, yMin:-1.75, yMax:1.62, zTop:2.18, zTicks:zTicksCloud, font:14, color:"#333", xOff:[16,16], yOff:[-23,17], zRight:-19, zDy:-6, xT:[382,837], yT:[148,850], zT:[41,693], tick:.2 };
const viewVol:V={ box:[1040,480,520,320], o:[1125,735], ex:[46.6,-18], ey:[-35,-22.5], ez:51, z0:.6, xMax:7.95, yMin:-1.2, yMax:1, zTop:2, zTicks:zTicksVolume, font:11.5, color:"#444", xOff:[9,13], yOff:[-18,14], zRight:-13, zDy:-6, xT:[1285,757], yT:[1103,781], zT:[1047,678], tick:.17 };

const canvases=[
  { box:viewHigh.box, make:()=>cloudConfig(viewHigh,highAcrossRow,highAlongRow,[highCanopy,highCanopyTop],highRidgeX,highRidgeZ,.25) },
  { box:viewLow.box, make:()=>cloudConfig(viewLow,lowAcrossRow,lowAlongRow,[lowCanopy],lowRidgeX,lowRidgeZ,.25) },
  { box:[840,20,630,380], make:heatConfig },
  { box:[1399,33,60,350], make:colorbarConfig },
  { box:[690,430,310,450], make:heightConfig },
  { box:viewVol.box, make:()=>volumeConfig(viewVol) },
];
const titles=[
  { text:"Vineyard Point Cloud", x:366, y:61, size:25, italic:true },
  { text:"High Vigor Zone", x:362, y:131, size:19, italic:true },
  { text:"Low Vigor Zone", x:366, y:519, size:19, italic:true },
  { text:"Canopy Density [points/m²]", x:1131, y:36, size:18.3, italic:false },
  { text:"Canopy Height and Thickness [m]", x:874, y:422, size:18.2, italic:false },
  { text:"Canopy Volume [m³]", x:1290, y:483, size:18.5, italic:false },
];

export default function App(){
  const refs=useRef<(HTMLCanvasElement|null)[]>([]);
  useEffect(()=>{
    document.body.style.margin="0"; document.body.style.background="#fff";
    const charts=canvases.map((c,i)=>new Chart(refs.current[i] as any,c.make() as any));
    return ()=>charts.forEach(c=>c.destroy());
  },[]);
  return <div style={{position:"relative",width:1600,height:900,background:"#fff",overflow:"hidden"}}>
    {canvases.map((c,i)=><canvas key={i} ref={el=>{refs.current[i]=el}} width={c.box[2]} height={c.box[3]} style={{position:"absolute",left:c.box[0],top:c.box[1],width:c.box[2],height:c.box[3],display:"block"}}/>)}
    {titles.map(t=><div key={t.text} style={{position:"absolute",left:t.x,top:t.y,transform:"translate(-50%,-50%)",whiteSpace:"nowrap",fontFamily:CAL,fontWeight:700,fontStyle:t.italic?"italic":"normal",fontSize:t.size,color:"#111"}}>{t.text}</div>)}
  </div>;
}
